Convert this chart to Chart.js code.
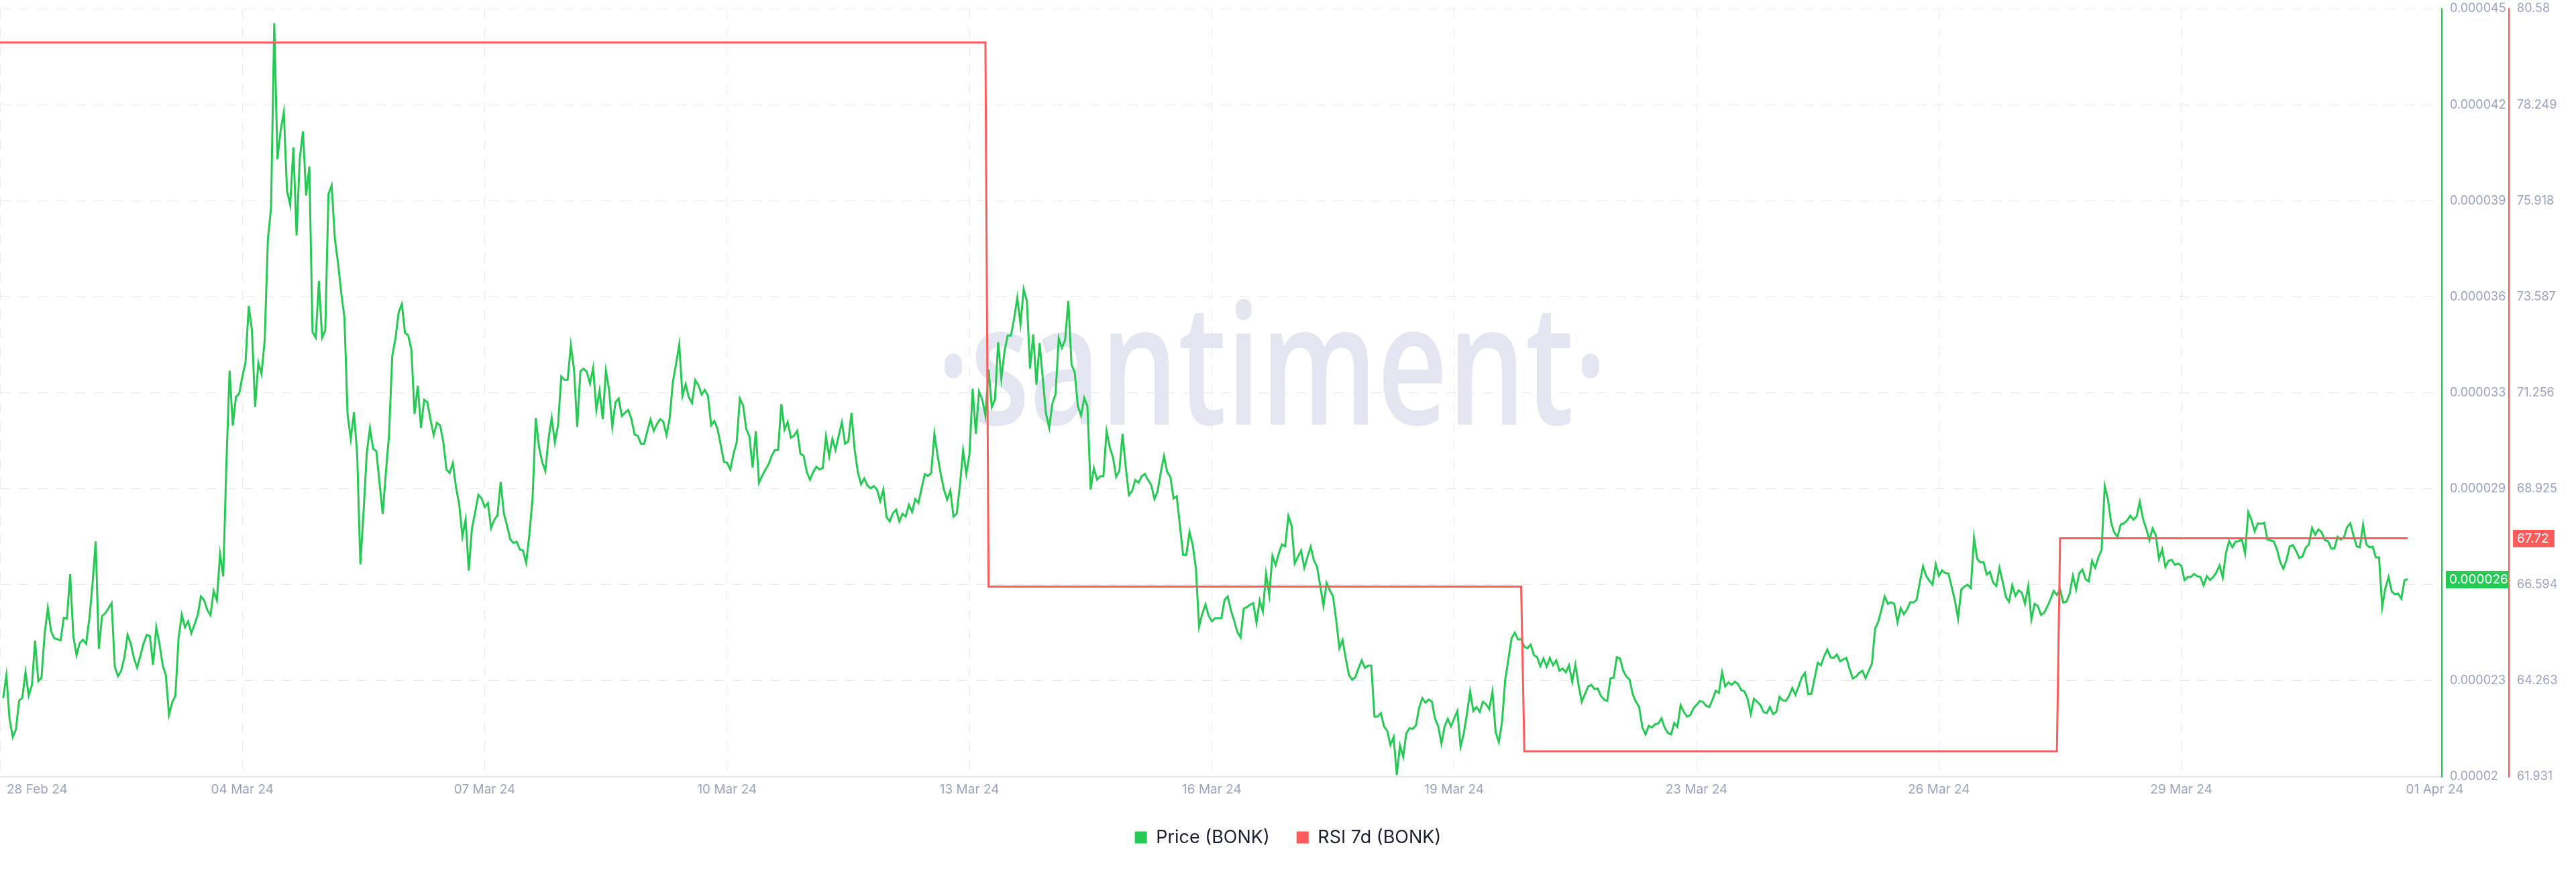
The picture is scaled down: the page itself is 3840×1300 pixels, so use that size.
<!DOCTYPE html>
<html>
<head>
<meta charset="utf-8">
<script src="https://cdn.jsdelivr.net/npm/chart.js@4.4.1/dist/chart.umd.min.js"></script>
<style>
  html, body { margin: 0; padding: 0; background: #ffffff; }
  #wrap { width: 3840px; height: 1300px; }
</style>
</head>
<body>
<div id="wrap"><canvas id="c" width="3840" height="1300"></canvas></div>
<script>
// Price of BONK, in units of 0.000001 USD (hourly-ish samples)
const priceValues = [
22.56,23.30,21.88,21.29,21.54,22.48,22.57,23.41,22.64,22.98,
24.43,23.11,23.22,24.65,25.50,24.74,24.51,24.48,24.44,25.17,
25.15,26.59,24.58,23.96,24.35,24.46,24.33,25.13,26.25,27.66,
24.16,25.23,25.32,25.48,25.65,23.58,23.27,23.45,23.89,24.62,
24.33,23.86,23.55,23.93,24.33,24.62,24.58,23.64,24.87,24.33,
23.64,23.30,22.01,22.42,22.64,24.52,25.28,24.87,25.06,24.67,
24.96,25.26,25.87,25.75,25.43,25.26,26.05,25.75,27.25,26.52,
30.21,33.22,31.43,32.37,32.47,33.03,33.50,35.33,34.54,32.04,
33.47,33.11,34.21,37.48,38.53,44.53,40.10,41.04,41.64,39.08,
38.61,40.49,37.62,40.13,41.01,38.92,39.86,34.48,34.29,36.14,
34.29,34.53,38.97,39.25,37.52,36.72,35.75,34.95,31.78,30.99,
31.87,30.49,26.91,28.61,30.52,31.35,30.68,30.60,29.58,28.56,
29.89,31.15,33.69,34.26,35.11,35.39,34.45,34.37,33.90,31.81,
32.73,31.36,32.27,32.19,31.62,31.12,31.52,31.44,30.90,30.00,
29.89,30.21,29.42,28.86,27.82,28.37,26.71,28.09,28.62,29.18,
29.06,28.78,28.91,28.09,28.37,28.51,29.60,28.57,28.17,27.73,
27.61,27.65,27.40,27.36,26.96,27.89,29.06,31.68,30.75,30.25,
29.95,31.00,31.68,30.88,31.46,33.03,32.92,32.92,34.04,33.26,
31.39,33.20,33.28,33.18,32.80,33.31,31.94,32.57,31.64,33.22,
32.59,31.39,32.19,32.31,31.74,31.85,31.94,31.64,31.14,31.10,
30.84,30.84,31.26,31.63,31.26,31.48,31.64,31.56,31.12,31.68,
32.86,33.44,34.07,32.40,32.78,32.35,32.17,32.91,32.75,32.44,
32.59,32.40,31.44,31.58,31.32,30.80,30.25,30.22,30.00,30.51,
30.88,32.31,32.10,31.32,31.08,30.07,31.24,29.57,29.80,29.99,
30.17,30.45,30.64,30.64,32.13,31.30,31.55,31.04,31.10,31.26,
30.51,30.45,29.91,29.67,29.92,30.09,30.00,30.05,31.08,30.43,
31.00,
30.64,31.10,31.54,30.84,30.91,31.84,30.64,29.92,29.52,29.71,
29.48,29.39,29.46,29.35,28.97,29.35,28.45,28.31,28.58,28.69,
28.31,28.56,28.47,28.85,28.62,29.04,28.91,29.39,29.85,29.79,
29.89,31.16,30.46,29.85,29.35,29.02,29.32,28.47,28.56,29.48,
30.62,29.87,30.49,32.63,31.16,32.54,32.28,31.76,33.26,32.04,
32.28,34.14,32.96,33.86,34.36,34.36,34.91,35.59,34.73,35.87,
35.48,33.29,34.40,32.76,34.12,32.94,31.82,31.36,32.15,32.46,
34.28,33.96,34.22,35.49,33.42,33.17,32.06,31.76,32.33,32.06,
29.35,30.05,29.67,29.78,29.78,31.25,30.72,30.40,29.76,29.96,
31.16,30.09,29.17,29.30,29.66,29.57,29.78,29.86,29.66,29.50,
29.04,29.30,29.92,30.44,29.92,29.76,29.06,29.13,28.17,27.22,
27.22,27.97,27.55,26.79,24.88,25.30,25.61,25.24,25.06,25.16,
25.16,25.16,25.76,25.87,25.41,25.08,24.71,24.54,25.47,25.52,
25.60,25.65,25.01,25.74,25.38,26.61,25.92,27.19,26.89,27.27,
27.56,27.50,28.49,28.18,26.94,27.16,27.36,26.80,27.16,27.49,
27.04,26.83,26.21,25.56,26.31,26.07,25.87,25.09,24.18,24.45,
23.85,23.31,23.16,23.24,23.53,23.79,23.54,23.62,23.62,21.96,
21.96,22.07,21.64,21.49,21.03,21.29,20.06,21.02,20.65,21.42,
21.58,21.56,21.67,22.24,22.56,22.41,22.51,22.44,21.89,21.64,
21.08,21.64,21.88,21.64,21.90,22.14,20.98,21.40,22.05,22.78,
22.14,22.27,22.11,22.44,22.36,22.20,22.78,21.45,21.13,21.78,
23.16,23.82,24.51,24.69,24.47,24.48,24.23,24.18,24.30,23.96,
23.89,23.60,23.85,23.58,23.87,23.63,23.79,23.45,23.52,23.40,
23.63,23.09,23.65,22.98,22.44,22.69,22.94,22.99,22.85,22.87,
22.63,22.51,22.47,23.20,23.23,23.89,23.85,23.45,23.26,23.16,
22.68,22.44,22.27,21.61,21.38,21.66,21.60,21.71,21.73,21.90,
21.60,21.43,21.38,21.75,21.62,22.33,22.11,21.96,22.00,22.22,
22.34,22.46,22.44,22.31,22.27,22.51,22.80,22.73,23.40,22.94,
23.07,22.99,23.09,23.02,22.82,22.78,22.54,22.04,22.54,22.44,
22.34,22.11,22.07,22.27,22.04,22.11,22.60,22.49,22.47,22.63,
22.89,22.67,22.94,23.23,23.38,22.69,22.70,23.20,23.71,23.63,
23.92,24.14,23.89,23.87,23.98,23.76,23.82,23.87,23.50,23.20,
23.26,23.38,23.45,23.21,23.45,23.69,24.83,25.05,25.45,25.87,
25.63,25.68,25.63,25.03,25.49,25.29,25.44,25.68,25.67,25.76,
26.32,26.85,26.54,26.38,26.25,26.92,26.54,26.72,26.63,26.61,
26.18,25.74,25.15,26.09,26.19,26.25,26.14,27.78,27.09,26.98,
26.99,26.58,26.67,26.32,26.21,26.80,26.34,25.85,25.70,26.24,
25.89,26.07,25.99,25.63,26.21,25.12,25.63,25.56,25.27,25.34,
25.54,25.78,26.05,25.92,26.09,25.67,25.70,25.96,26.54,26.10,
26.62,
26.74,26.43,26.36,27.03,26.80,27.14,27.38,29.46,29.03,28.27,
27.94,27.81,28.21,28.25,28.34,28.50,28.37,28.47,28.95,28.39,
28.08,27.70,28.08,27.86,27.09,27.40,26.83,27.03,27.06,26.90,
26.94,26.87,26.40,26.50,26.50,26.60,26.53,26.50,26.23,26.53,
26.40,26.50,26.65,26.88,26.48,27.28,27.67,27.47,27.65,27.67,
27.72,27.27,28.61,28.36,27.99,28.25,28.23,28.27,27.72,27.69,
27.66,27.40,26.99,26.77,27.06,27.50,27.54,27.35,27.12,27.17,
27.45,27.56,28.10,27.88,28.05,27.96,27.70,27.67,27.43,27.43,
27.81,27.72,27.79,28.13,28.25,27.85,27.50,27.47,28.20,27.57,
27.47,27.49,27.14,27.14,25.52,26.14,26.50,26.03,25.94,25.96,
25.80,26.40,26.43
];

// RSI 7d: step line, given at the sample positions where it changes level
const rsiPointIndex = [-1, 308, 309, 476, 477, 644, 645, 754];
const rsiValues     = [79.76, 79.76, 66.55, 66.55, 62.55, 62.55, 67.72, 67.72];

// x axis (sample position of each date label)
const xRange = [-1, 764.7];
const xTickPositions = [-1, 75, 151, 227, 303, 379, 455, 531, 607, 683, 762.5];
const xTickLabels = ['28 Feb 24','04 Mar 24','07 Mar 24','10 Mar 24','13 Mar 24','16 Mar 24','19 Mar 24','23 Mar 24','26 Mar 24','29 Mar 24','01 Apr 24'];

// price axis (units of 0.000001)
const priceRange = [20, 45];
const priceTickValues = [20, 23.125, 26.25, 29.375, 32.5, 35.625, 38.75, 41.875, 45];
const priceTickLabels = ['0.00002','0.000023','0.000026','0.000029','0.000033','0.000036','0.000039','0.000042','0.000045'];

// RSI axis
const rsiRange = [61.931, 80.58];
const rsiTickValues = [61.931, 64.263, 66.594, 68.925, 71.256, 73.587, 75.918, 78.249, 80.58];
const rsiTickLabels = ['61.931','64.263','66.594','68.925','71.256','73.587','75.918','78.249','80.58'];

const seriesNames = ['Price (BONK)', 'RSI 7d (BONK)'];
const latestPriceLabel = '0.000026';
const latestRsiLabel = '67.72';
const watermarkText = '\u00B7santiment\u00B7';

const GREEN = '#26c953';
const RED = '#ff5b5b';
const GRID = '#e6e8f2';
const XBORDER = '#e3e6f1';
const TICK = '#9aa4be';
const LEGEND_TEXT = '#1b2030';

Chart.defaults.font.family = 'Inter';

const firstLabelPlugin = {
  id: 'firstLabel',
  beforeDraw(chart) {
    const s = chart.scales.x;
    const items = s.getLabelItems();
    if (items && items.length) {
      const it = items[0];
      const o = it.options || it;
      o.textAlign = 'left';
      if (o.translation) o.translation[0] = s.left + 10;
    }
  }
};

const watermarkPlugin = {
  id: 'watermark',
  beforeDatasetsDraw(chart) {
    const ctx = chart.ctx;
    ctx.save();
    ctx.font = '600 250px "Open Sans"';
    ctx.fillStyle = '#e3e6f0';
    ctx.textAlign = 'center';
    ctx.textBaseline = 'alphabetic';
    const w = ctx.measureText(watermarkText).width;
    ctx.translate(1896, 633);
    ctx.scale(1000 / w, 1);
    ctx.fillText(watermarkText, 0, 0);
    ctx.restore();
  }
};

const lastValuePlugin = {
  id: 'lastValue',
  afterDraw(chart) {
    const ctx = chart.ctx;
    const yS = chart.scales.y, rS = chart.scales.y1;
    const py = yS.getPixelForValue(priceValues[priceValues.length - 1]);
    const ry = rS.getPixelForValue(rsiValues[rsiValues.length - 1]);
    ctx.save();
    ctx.font = '19px Inter';
    ctx.textBaseline = 'middle';
    ctx.textAlign = 'left';
    ctx.fillStyle = GREEN;
    ctx.fillRect(yS.left + 6, Math.round(py) - 13, yS.right - yS.left - 6, 26);
    ctx.fillStyle = '#ffffff';
    ctx.fillText(latestPriceLabel, yS.left + 11, py + 1);
    ctx.fillStyle = RED;
    ctx.fillRect(rS.left + 6, Math.round(ry) - 13, 62, 26);
    ctx.fillStyle = '#ffffff';
    ctx.fillText(latestRsiLabel, rS.left + 12, ry + 1);
    ctx.restore();
  }
};

new Chart(document.getElementById('c'), {
  type: 'line',
  data: {
    datasets: [
      {
        label: seriesNames[0],
        data: priceValues.map((v, i) => ({ x: i, y: v })),
        yAxisID: 'y',
        borderColor: GREEN,
        backgroundColor: GREEN,
        borderWidth: 3,
        pointRadius: 0,
        tension: 0,
        order: 2
      },
      {
        label: seriesNames[1],
        data: rsiPointIndex.map((x, i) => ({ x: x, y: rsiValues[i] })),
        yAxisID: 'y1',
        borderColor: RED,
        backgroundColor: RED,
        borderWidth: 3,
        pointRadius: 0,
        tension: 0,
        order: 1
      }
    ]
  },
  options: {
    responsive: false,
    animation: false,
    devicePixelRatio: 1,
    layout: { padding: { top: 13, bottom: 28, left: 0, right: 0 } },
    plugins: {
      tooltip: { enabled: false },
      legend: {
        position: 'bottom',
        labels: {
          boxWidth: 18,
          boxHeight: 18,
          padding: 40,
          color: LEGEND_TEXT,
          font: { family: 'Inter', size: 27 },
          sort: (a, b) => a.datasetIndex - b.datasetIndex,
          generateLabels: (chart) => Chart.defaults.plugins.legend.labels.generateLabels(chart).map(l => Object.assign(l, { lineWidth: 0 }))
        }
      }
    },
    scales: {
      x: {
        type: 'linear',
        min: xRange[0],
        max: xRange[1],
        afterBuildTicks: (s) => { s.ticks = xTickPositions.map(v => ({ value: v })); },
        afterFit: (s) => { s.paddingLeft = 0; s.paddingRight = 0; s.height = 37; },
        ticks: {
          autoSkip: false,
          maxRotation: 0,
          minRotation: 0,
          padding: 8,
          color: TICK,
          font: { family: 'Inter', size: 19 },
          callback: (v, i) => xTickLabels[i]
        },
        grid: {
          color: (c) => (c.index === xTickLabels.length - 1 ? 'rgba(0,0,0,0)' : GRID),
          lineWidth: 1,
          drawTicks: false
        },
        border: { display: true, color: XBORDER, width: 2, dash: [15, 13] }
      },
      y: {
        type: 'linear',
        position: 'right',
        min: priceRange[0],
        max: priceRange[1],
        afterBuildTicks: (s) => { s.ticks = priceTickValues.map(v => ({ value: v })); },
        afterFit: (s) => { s.width = 100; s.paddingTop = 0; s.paddingBottom = 0; },
        ticks: {
          padding: 12,
          color: TICK,
          font: { family: 'Inter', size: 18 },
          callback: (v, i) => priceTickLabels[i]
        },
        grid: { color: GRID, lineWidth: 1, drawTicks: false },
        border: { display: true, color: GREEN, width: 2, dash: [15, 13] }
      },
      y1: {
        type: 'linear',
        position: 'right',
        min: rsiRange[0],
        max: rsiRange[1],
        afterBuildTicks: (s) => { s.ticks = rsiTickValues.map(v => ({ value: v })); },
        afterFit: (s) => { s.width = 100; s.paddingTop = 0; s.paddingBottom = 0; },
        ticks: {
          padding: 12,
          color: TICK,
          font: { family: 'Inter', size: 18 },
          callback: (v, i) => rsiTickLabels[i]
        },
        grid: { drawOnChartArea: false, drawTicks: false },
        border: { display: true, color: RED, width: 2 }
      }
    }
  },
  plugins: [firstLabelPlugin, watermarkPlugin, lastValuePlugin]
});
</script>
</body>
</html>
